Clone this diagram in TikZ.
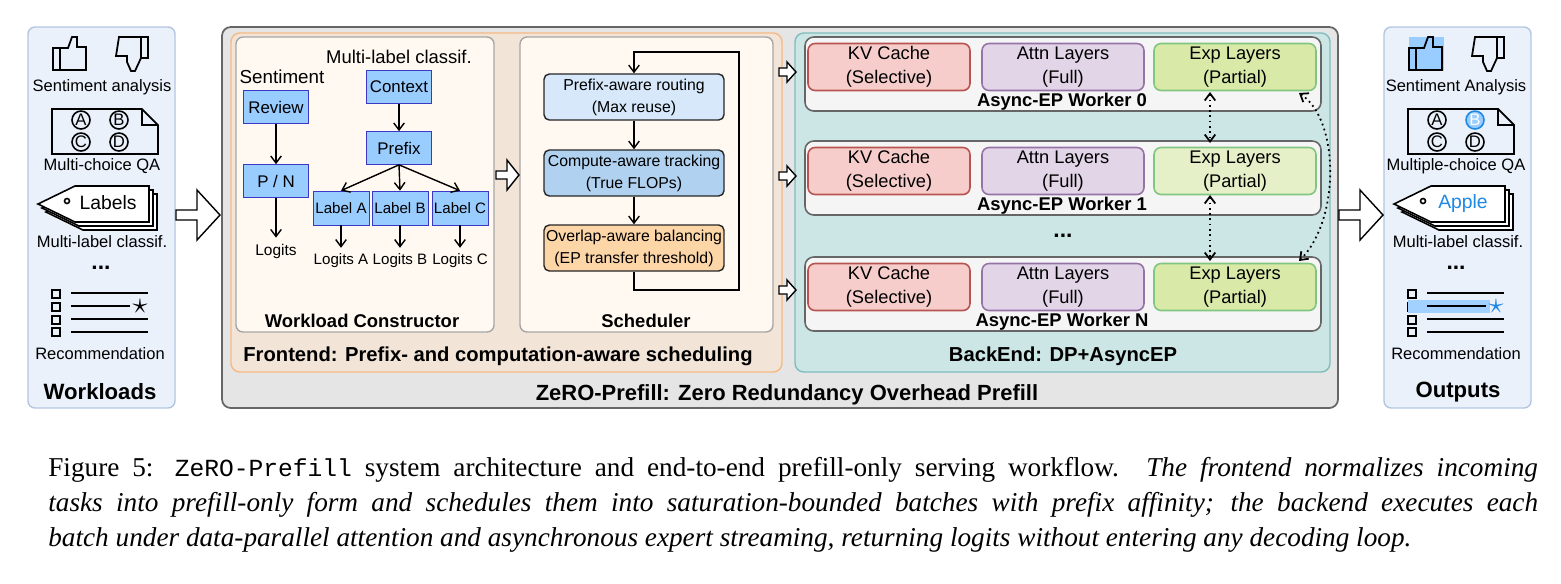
\documentclass[tikz,border=0pt]{standalone}
\usepackage{fontspec}
\setmainfont{Liberation Serif}
\setsansfont{Liberation Sans}
\setmonofont{Liberation Mono}
\usetikzlibrary{arrows.meta,positioning}
\definecolor{wlfill}{HTML}{EAF1FB}
\definecolor{wldraw}{HTML}{B3C6E0}
\definecolor{frfill}{HTML}{F2E5D8}
\definecolor{frdraw}{HTML}{F6B983}
\definecolor{bkfill}{HTML}{CCE5E5}
\definecolor{bkdraw}{HTML}{7FBDBD}
\definecolor{lblue}{HTML}{99CCFF}
\definecolor{kvfill}{HTML}{F6CDCB}
\definecolor{kvdraw}{HTML}{B85450}
\definecolor{atfill}{HTML}{E1D5E7}
\definecolor{atdraw}{HTML}{9673A6}
\definecolor{exfill}{HTML}{D9EAA8}
\definecolor{exfillb}{HTML}{E6F0C8}
\definecolor{rtfill}{HTML}{D6E8FA}
\definecolor{tkfill}{HTML}{B0D2F0}
\definecolor{blfill}{HTML}{FDD6A8}
\definecolor{hiblue}{HTML}{1E88E5}
\newcommand\fs[1]{\fontsize{#1}{#1}\selectfont}
\newcommand\circled[1]{\tikz[baseline=(c.base)]\node[draw,circle,line width=0.9pt,inner sep=0.2pt,minimum size=0.36cm,font=\fs{9.5}\sffamily](c){#1};}

\begin{document}
\begin{tikzpicture}[x=0.02cm,y=-0.02cm,font=\sffamily\fs{9.4},
  panel/.style={draw=wldraw,fill=wlfill,rounded corners=4pt,line width=0.8pt},
  inner/.style={draw=gray!70,fill=orange!5,rounded corners=4pt,line width=0.8pt},
  blk/.style={draw=blue!55!gray,fill=lblue,minimum width=1.3cm,minimum height=0.66cm,inner sep=1pt,font=\sffamily\fs{9.6}},
  lbl/.style={draw=blue!55!gray,fill=lblue,minimum width=1.12cm,minimum height=0.68cm,inner sep=1pt,font=\sffamily\fs{8.6}},
  stage/.style={draw=black!85,rounded corners=3pt,line width=0.8pt,minimum width=3.6cm,minimum height=0.92cm,align=center,inner sep=1pt,font=\sffamily\fontsize{9}{12.5}\selectfont},
  worker/.style={draw=black!60,fill=gray!8,rounded corners=5pt,line width=0.9pt},
  comp/.style={rounded corners=4pt,line width=0.9pt,minimum width=3.24cm,minimum height=0.94cm,align=center,inner sep=1pt,font=\sffamily\fontsize{10.4}{13.5}\selectfont},
  ttl/.style={font=\sffamily\bfseries\fs{10.5}},
  big/.style={font=\sffamily\bfseries\fs{11.5}},
  arr/.style={-{Straight Barb[length=4pt,width=6pt]},line width=0.8pt},
  darr/.style={{Straight Barb[length=4pt,width=6pt]}-{Straight Barb[length=4pt,width=6pt]},line width=1pt,dotted},
  hollow/.style={draw,fill=white,line width=0.8pt}]

\useasboundingbox (0,0) rectangle (1561,583);

% containers
\draw[panel] (28,27) rectangle (175,408);
\draw[panel] (1384,27) rectangle (1531,408);
\draw[draw=black!60,fill=gray!20,rounded corners=5pt,line width=1pt] (222,27) rectangle (1338,408);
\draw[draw=frdraw,fill=frfill,rounded corners=5pt,line width=0.8pt] (231,33) rectangle (782,372);
\draw[draw=bkdraw,fill=bkfill,rounded corners=5pt,line width=0.8pt] (795,33) rectangle (1330,372);
\draw[inner] (236,37) rectangle (494,332);
\draw[inner] (520,37) rectangle (773,332);

% big hollow arrows
\draw[hollow] (176,210)--(197,210)--(197,190)--(220,215)--(197,240)--(197,220)--(176,220)--cycle;
\draw[hollow] (1339,210)--(1360,210)--(1360,190)--(1383,215)--(1360,240)--(1360,220)--(1339,220)--cycle;
\draw[hollow] (496,171)--(507,171)--(507,160)--(519,175)--(507,190)--(507,179)--(496,179)--cycle;
\foreach \y in {72,176,290}
  \draw[hollow] (779,\y-4)--(787,\y-4)--(787,\y-10)--(796,\y)--(787,\y+10)--(787,\y+4)--(779,\y+4)--cycle;

% workloads icons
\foreach \dx/\hl in {0/0,1356/1}{
  \begin{scope}[xshift=\dx*0.02cm]
    \ifnum\hl=1 \fill[lblue] (53,37) rectangle (88,71); \fi
    \draw[line width=1pt] (53,48) rectangle (60,70) (60,48)--(68,48)--(72,37)--(77,37)--(77,47)--(86,47)--(86,70)--(60,70);
    \draw[line width=1pt] (148,37) rectangle (141,58) (141,37)--(119,37)--(116,56)--(127,56)--(127,62)--(131,71)--(135,71)--(141,58);
    \draw[line width=1pt] (52,109)--(142,109)--(158,125)--(158,154)--(52,154)--cycle (142,109)--(142,125)--(158,125);
    \foreach \x/\yy/\t in {81/120/A,81/142/C,119/142/D} \node at (\x,\yy) {\circled{\t}};
    \ifnum\hl=1 \node at (119,120) {\tikz[baseline=(c.base)]\node[draw=hiblue,fill=lblue,text=white,circle,line width=0.9pt,inner sep=0.2pt,minimum size=0.36cm,font=\fs{9.5}\sffamily](c){B};};
    \else \node at (119,120) {\circled{B}}; \fi
    \foreach \s in {8,4,0}
      \draw[line width=0.9pt,fill=white] (38+\s,204+\s)--(75+\s,186+\s)--(149+\s,186+\s)--(149+\s,222+\s)--(75+\s,222+\s)--cycle;
    \draw[line width=0.9pt] (67,201) circle (2.5);
    \foreach \yy in {294,307,320,332} \draw[line width=0.9pt] (52,\yy-4) rectangle (60,\yy+4);
    \ifnum\hl=1 \fill[lblue!90] (52,300) rectangle (134,313); \fi
    \foreach \yy/\xe in {293/148,306/130,319/148,332/148} \draw[line width=0.9pt] (71,\yy)--(\xe,\yy);
    \ifnum\hl=1 \node[text=hiblue,font=\fs{17}] at (140,306) {$\star$};
    \else \node[font=\fs{19}] at (140,306) {$\star$}; \fi
  \end{scope}}
\node (wsa) at (102,87) {Sentiment analysis};
\node (wqa) at (102,166) {Multi-choice QA};
\node[font=\sffamily\fs{11}] (wlb) at (108,203) {Labels};
\node (wml) at (102,242) {Multi-label classif.};
\node[inner sep=0pt,font=\sffamily\bfseries\fs{13}] (wdt) at (101,268) {...};
\node (wrc) at (100,354) {Recommendation};
\node[font=\sffamily\bfseries\fs{12.6}] (wtt) at (100,392) {Workloads};
\node (osa) at (1456,87) {Sentiment Analysis};
\node (oqa) at (1456,166) {Multiple-choice QA};
\node[font=\sffamily\fs{11},text=hiblue] (olb) at (1463,203) {Apple};
\node (oml) at (1458,242) {Multi-label classif.};
\node[inner sep=0pt,font=\sffamily\bfseries\fs{13}] (odt) at (1456,268) {...};
\node (orc) at (1456,354) {Recommendation};
\node[font=\sffamily\bfseries\fs{12.6}] (ott) at (1458,392) {Outputs};

% workload constructor
\node[font=\sffamily\fs{10.5}] (mlc) at (399,57) {Multi-label classif.};
\node[font=\sffamily\fs{10.7}] (sen) at (282,77) {Sentiment};
\node[blk] (rev) at (276,107) {Review};
\node[blk] (pn) at (276,181) {P / N};
\node[font=\sffamily\fs{8.8}] (lg) at (276,251) {Logits};
\node[blk] (ctx) at (399,87) {Context};
\node[blk] (pre) at (399,148) {Prefix};
\foreach \n/\x in {A/341,B/400,C/460}{
  \node[lbl] (l\n) at (\x,208) {Label \n};
  \node[font=\sffamily\fs{8.6}] (g\n) at (\x,261) {Logits \n};
  \draw[arr] (l\n) -- (g\n);
  \draw[arr] (pre.south) -- (l\n.north);}
\draw[arr] (rev) -- (pn);
\draw[arr] (pn) -- (lg);
\draw[arr] (ctx) -- (pre);
\node[ttl] (wct) at (362,321) {Workload Constructor};

% scheduler
\node[stage,fill=rtfill] (rt) at (634,97) {Prefix-aware routing\\(Max reuse)};
\node[stage,fill=tkfill] (tk) at (634,173) {Compute-aware tracking\\(True FLOPs)};
\node[stage,fill=blfill] (bl) at (634,248) {Overlap-aware balancing\\(EP transfer threshold)};
\draw[arr] (rt) -- (tk);
\draw[arr] (tk) -- (bl);
\draw[arr] (bl.south) |- (739,290) |- (634,52) -- (rt.north);
\node[ttl] (sch) at (646,321) {Scheduler};
\node[big] (fre) at (498,356) {Frontend: Prefix- and computation-aware scheduling};

% backend workers
\foreach \i/\y/\w/\ef in {0/37/0/exfill,1/141/1/exfillb,2/257/N/exfill}{
  \draw[worker] (805,\y) rectangle (1321,\y+74);
  \node[comp,draw=kvdraw,fill=kvfill] (kv\i) at (889,\y+30) {KV Cache\\(Selective)};
  \node[comp,draw=atdraw,fill=atfill] (at\i) at (1063,\y+30) {Attn Layers\\(Full)};
  \node[comp,draw=black!45!green!50,fill=\ef] (ex\i) at (1235,\y+30) {Exp Layers\\(Partial)};
  \node[ttl] (wk\i) at (1062,\y+65) {Async-EP Worker \w};}
\node[font=\sffamily\bfseries\fs{13}] (bdt) at (1063,236) {...};
\coordinate (d0) at (1210,92);
\coordinate (d1a) at (1210,143);
\coordinate (d1b) at (1210,195);
\coordinate (d2) at (1210,261);
\coordinate (c0) at (1299,93);
\coordinate (c2) at (1299,261);
\draw[darr] (d0) -- (d1a);
\draw[darr] (d1b) -- (d2);
\draw[darr] (c0) .. controls (1340,120) and (1340,220) .. (c2);
\node[big] (bke) at (1063,356) {BackEnd: DP+AsyncEP};
\node[big,font=\sffamily\bfseries\fs{12.5}] (zro) at (787,395) {ZeRO-Prefill: Zero Redundancy Overhead Prefill};

% caption
\node[anchor=north west,text width=29.8cm,align=justify,inner sep=0pt,font=\rmfamily\fontsize{15.5}{19.9}\selectfont] (cap) at (48,457)
{Figure 5: {\ttfamily\fontsize{14}{19.9}\selectfont ZeRO-Prefill} system architecture and end-to-end prefill-only serving workflow. \emph{The frontend normalizes incoming\linebreak tasks into prefill-only form and schedules them into saturation-bounded batches with prefix affinity; the backend executes each\linebreak batch under data-parallel attention and asynchronous expert streaming, returning logits without entering any decoding loop.}};
\end{tikzpicture}
\end{document}
